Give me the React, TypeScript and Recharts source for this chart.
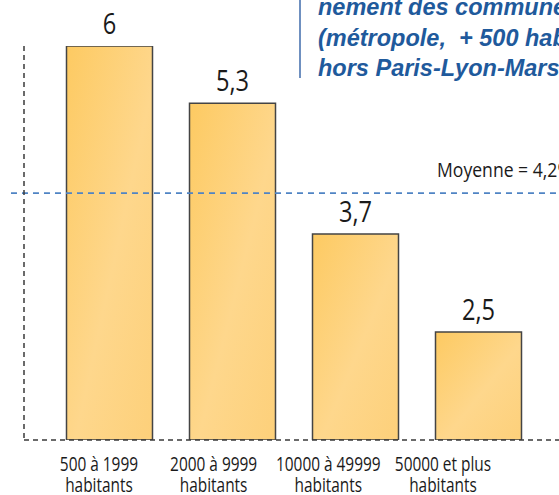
import React from 'react';
import { BarChart, Bar, XAxis, YAxis, ReferenceLine, LabelList } from 'recharts';

const categories = ['500 à 1999 habitants', '2000 à 9999 habitants', '10000 à 49999 habitants', '50000 et plus habitants'];
const values = [6, 5.3, 3.7, 2.5];
const average = 4.2;
const averageLabel = 'Moyenne = 4,2%';
const titleLines = ['nement des communes', '(métropole,\u00a0 + 500 habitants', 'hors Paris-Lyon-Marseille)'];

const data = categories.map((c, i) => ({ cat: c, value: values[i] }));

const FONT = "'Open Sans', sans-serif";
const SQUEEZE = 0.79;
const lastIndex = data.length - 1;

const Tick = (props: any) => {
  const { x, y, payload } = props;
  const label: string = payload.value;
  const idx = label.lastIndexOf(' ');
  const l1 = label.slice(0, idx);
  const l2 = label.slice(idx + 1);
  return (
    <g transform={`translate(${x},${y}) scale(${SQUEEZE},1)`}>
      <text x={0} y={0} textAnchor="middle" fontFamily={FONT} fontSize={19.5} fontWeight={500} fill="#1a1a1a">
        <tspan x={0} dy={30}>{l1}</tspan>
        <tspan x={0} dy={21}>{l2}</tspan>
      </text>
    </g>
  );
};

const ValueLabel = (props: any) => {
  const { x, y, width, value } = props;
  const cx = Number(x) + Number(width) / 2;
  const by = Number(y) - 12;
  return (
    <g transform={`translate(${cx},${by}) scale(0.8,1)`}>
      <text x={0} y={0} textAnchor="middle" fontFamily={FONT} fontSize={29.5} fontWeight={500} fill="#1a1a1a">
        {String(value).replace('.', ',')}
      </text>
    </g>
  );
};

export default function App() {
  return (
    <div style={{ position: 'fixed', left: 0, top: 0, width: 559, height: 495, overflow: 'hidden', background: '#fff' }}>
      <BarChart width={559} height={495} data={data} margin={{ top: 46, right: 0, left: 23, bottom: 0 }}>
        <defs>
          <linearGradient id="barGrad" x1="0" y1="0" x2="1" y2="1">
            <stop offset="0%" stopColor="#FDCA62" />
            <stop offset="55%" stopColor="#FED78C" />
            <stop offset="100%" stopColor="#FDD07A" />
          </linearGradient>
        </defs>
        <XAxis
          dataKey="cat"
          padding={{ left: 23.5, right: 19.5 }}
          height={1}
          tick={false}
          tickLine={false}
          axisLine={{ stroke: '#3a3a3a', strokeWidth: 1.5, strokeDasharray: '5 4' }}
        />
        <XAxis
          xAxisId="lbl"
          dataKey="cat"
          padding={{ left: 17.6, right: 58.7 }}
          height={54}
          tick={<Tick />}
          tickLine={false}
          tickSize={0}
          tickMargin={0}
          axisLine={false}
          interval={0}
        />
        <XAxis xAxisId="n" type="number" domain={[0, lastIndex]} allowDataOverflow hide />
        <YAxis
          width={1}
          domain={[1.18, 6]}
          allowDataOverflow
          tick={false}
          tickLine={false}
          axisLine={{ stroke: '#3a3a3a', strokeWidth: 1.5, strokeDasharray: '5 4' }}
        />
        <ReferenceLine
          xAxisId="n"
          segment={[{ x: -0.073, y: average }, { x: lastIndex, y: average }]}
          ifOverflow="visible"
          stroke="#4f84c4"
          strokeWidth={1.6}
          strokeDasharray="6 5"
        />
        <Bar dataKey="value" barSize={86} fill="url(#barGrad)" stroke="#444" strokeWidth={1.5} isAnimationActive={false}>
          <LabelList dataKey="value" content={<ValueLabel />} />
        </Bar>
      </BarChart>
      <svg width={559} height={495} style={{ position: 'absolute', left: 0, top: 0, pointerEvents: 'none' }}>
        <line x1={300} y1={0} x2={300} y2={78} stroke="#6f90c0" strokeWidth={2} />
        {titleLines.map((t, i) => (
          <text key={i} x={318} y={15 + i * 30.5} fontFamily="'Liberation Sans', sans-serif" fontStyle="italic" fontWeight={700} fontSize={23.5} fill="#1f5a9c">
            {t}
          </text>
        ))}
        <g transform={`translate(437,177) scale(0.88,1)`}>
          <text x={0} y={0} fontFamily={FONT} fontSize={20} fill="#1a1a1a">{averageLabel}</text>
        </g>
      </svg>
    </div>
  );
}
